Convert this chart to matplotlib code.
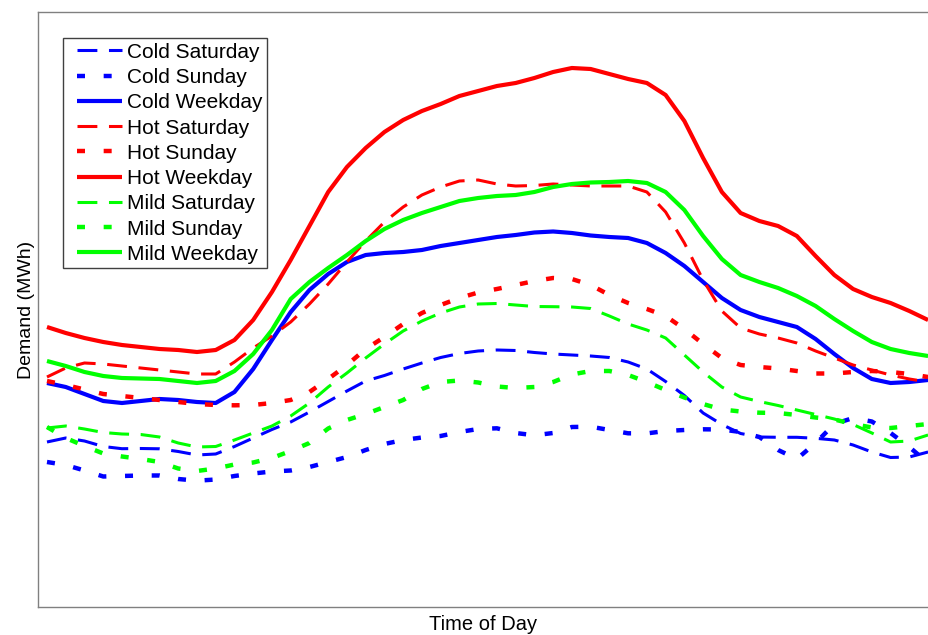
"""
Half-hourly electricity demand profiles by temperature band and day type
"""

import matplotlib
matplotlib.use('Agg')
import matplotlib.pyplot as plt
from matplotlib.lines import Line2D
from matplotlib.legend_handler import HandlerLine2D

# 48 half-hour periods of the day
periods = list(range(48))

# Demand (MWh)
cold_saturday = [165, 169, 166, 160.5, 158.3, 158.5, 158.2, 155.5, 152, 153, 160.5, 169,
                 177.5, 185, 195, 205.5, 216, 226, 231.5, 238, 244, 249.5, 253.5, 256,
                 257, 256.5, 254.5, 253, 252, 251, 249.5, 245, 238, 225.5, 211.5, 194,
                 182.5, 173.5, 170, 169.7, 169.7, 168.7, 167, 162, 155, 149.5, 150, 155]
cold_sunday = [145, 142, 136.5, 130.5, 131, 131.5, 131.5, 128, 126.3, 127.5, 131, 133.5,
               135.5, 136.5, 140, 145, 150, 157, 163, 167, 169.5, 171, 175, 178,
               178.7, 174, 171.7, 174, 180, 180.3, 177, 173.7, 173.6, 176, 177, 177.7,
               177.5, 175, 170, 157, 148, 164, 183, 189, 185.5, 174, 160, 144]
cold_weekday = [224, 220, 213, 206, 204, 206, 208, 207, 205, 204, 215, 238,
                267, 295, 317, 333, 345, 352, 354, 355, 357, 361, 364, 367,
                370, 372, 374.5, 375.5, 374, 371.5, 370, 369, 364, 354, 341, 325,
                309, 297, 290, 285, 280, 268, 253, 239, 228, 224, 225, 227]
hot_saturday = [230, 239, 244, 243, 241, 239, 237, 235, 233, 233, 245, 259,
                271, 285, 303, 323, 345, 366, 385, 400, 412, 420, 426, 427,
                423, 421, 421.5, 423, 422, 421, 421, 421, 415, 395, 364, 327,
                296, 279, 273, 269, 264, 256, 249, 242, 237, 232, 228, 225]
hot_sunday = [226, 222, 217.5, 213, 211, 209, 207, 205, 203, 202, 201.7, 202,
              204, 207, 215, 228, 242, 258, 270, 283, 294, 302, 309, 314.5,
              318, 322, 326, 329, 328, 322, 312, 304, 298, 291, 278, 263,
              249, 242, 240, 238.5, 236, 233.5, 233.5, 235, 236, 235, 233, 230]
hot_weekday = [280, 274, 269, 265, 262, 260, 258, 257, 255, 257, 267, 287,
               315, 347, 381, 415, 440, 459, 475, 487, 496, 503, 511, 516,
               521, 524, 529, 535, 539, 538, 533, 528, 524, 512, 486, 449,
               415, 394, 386, 381, 371, 351, 332, 318, 310, 304, 296, 287]
mild_saturday = [179, 181, 178, 174.5, 173, 172.5, 170, 164, 160, 160.5, 167, 174,
                 181, 191, 204, 220, 234, 249, 263, 276, 286, 294, 300, 303,
                 303.5, 302, 300.5, 300.3, 300, 298.5, 291, 283, 277, 269, 252, 235,
                 220, 210, 205.5, 201.5, 197, 192.5, 188, 182.5, 174, 165, 166, 172]
mild_sunday = [180, 169, 161, 153.5, 150.5, 148, 145, 138.5, 136, 138.5, 142.5, 144.5,
               149, 156, 164, 178.5, 187, 193, 200, 207, 218, 225, 226.5, 224.5,
               220.5, 219, 220, 225, 232.5, 236, 236, 232, 225, 217, 209.5, 203,
               197.5, 195.5, 194.3, 194, 192, 189.5, 187.5, 183, 179.5, 179, 181, 183]
mild_weekday = [246, 241, 235, 231, 229, 228.5, 228, 226, 224, 226, 236, 253,
                277, 308, 325, 339, 352, 366, 378, 387, 394, 400, 406, 409,
                411, 412, 415, 420, 423, 424.5, 425, 426, 424, 415, 397, 371,
                348, 332, 325, 319, 311, 301, 288, 276, 265, 258, 254, 251]

labels = ['Cold Saturday', 'Cold Sunday', 'Cold Weekday',
          'Hot Saturday', 'Hot Sunday', 'Hot Weekday',
          'Mild Saturday', 'Mild Sunday', 'Mild Weekday']
series = [cold_saturday, cold_sunday, cold_weekday,
          hot_saturday, hot_sunday, hot_weekday,
          mild_saturday, mild_sunday, mild_weekday]

colors = {'Cold': '#0000ff', 'Hot': '#ff0000', 'Mild': '#00ff00'}
styles = {
    'Saturday': dict(linewidth=2.2, dashes=(6.5, 3.8)),
    'Sunday': dict(linewidth=3.2, dashes=(1.8, 4.2)),
    'Weekday': dict(linewidth=3.0, linestyle='-'),
}


def plot_demand():
    plt.rcParams['font.family'] = ['Liberation Sans', 'DejaVu Sans']

    fig = plt.figure(figsize=(9.29, 6.35), dpi=100)
    ax = fig.add_axes([0.0409, 0.0441, 0.9591, 0.937])

    for label, values in zip(labels, series):
        band, day = label.split()
        ax.plot(periods, values, color=colors[band], label=label,
                solid_capstyle='butt', **styles[day])

    ax.set_xlim(-0.48, 47.05)
    ax.set_ylim(0, 595)
    ax.set_xticks([])
    ax.set_yticks([])
    for side in ax.spines.values():
        side.set_color('#808080')
        side.set_linewidth(1.0)

    ax.set_xlabel('Time of Day', fontsize=14.5, labelpad=5.5)
    ax.set_ylabel('Demand (MWh)', fontsize=14, labelpad=2.5)

    leg = ax.legend(loc='upper left', bbox_to_anchor=(0.028, 0.956),
                    borderaxespad=0, fontsize=15, frameon=True, fancybox=False,
                    edgecolor='#404040', framealpha=1, labelspacing=0.3,
                    handlelength=2.63, handletextpad=0.24, borderpad=0.22,
                    handler_map={Line2D: HandlerLine2D(xpad=0.46)})
    leg.get_frame().set_linewidth(1.0)

    fig.savefig('out.png', dpi=100)


if __name__ == "__main__":
    plot_demand()
